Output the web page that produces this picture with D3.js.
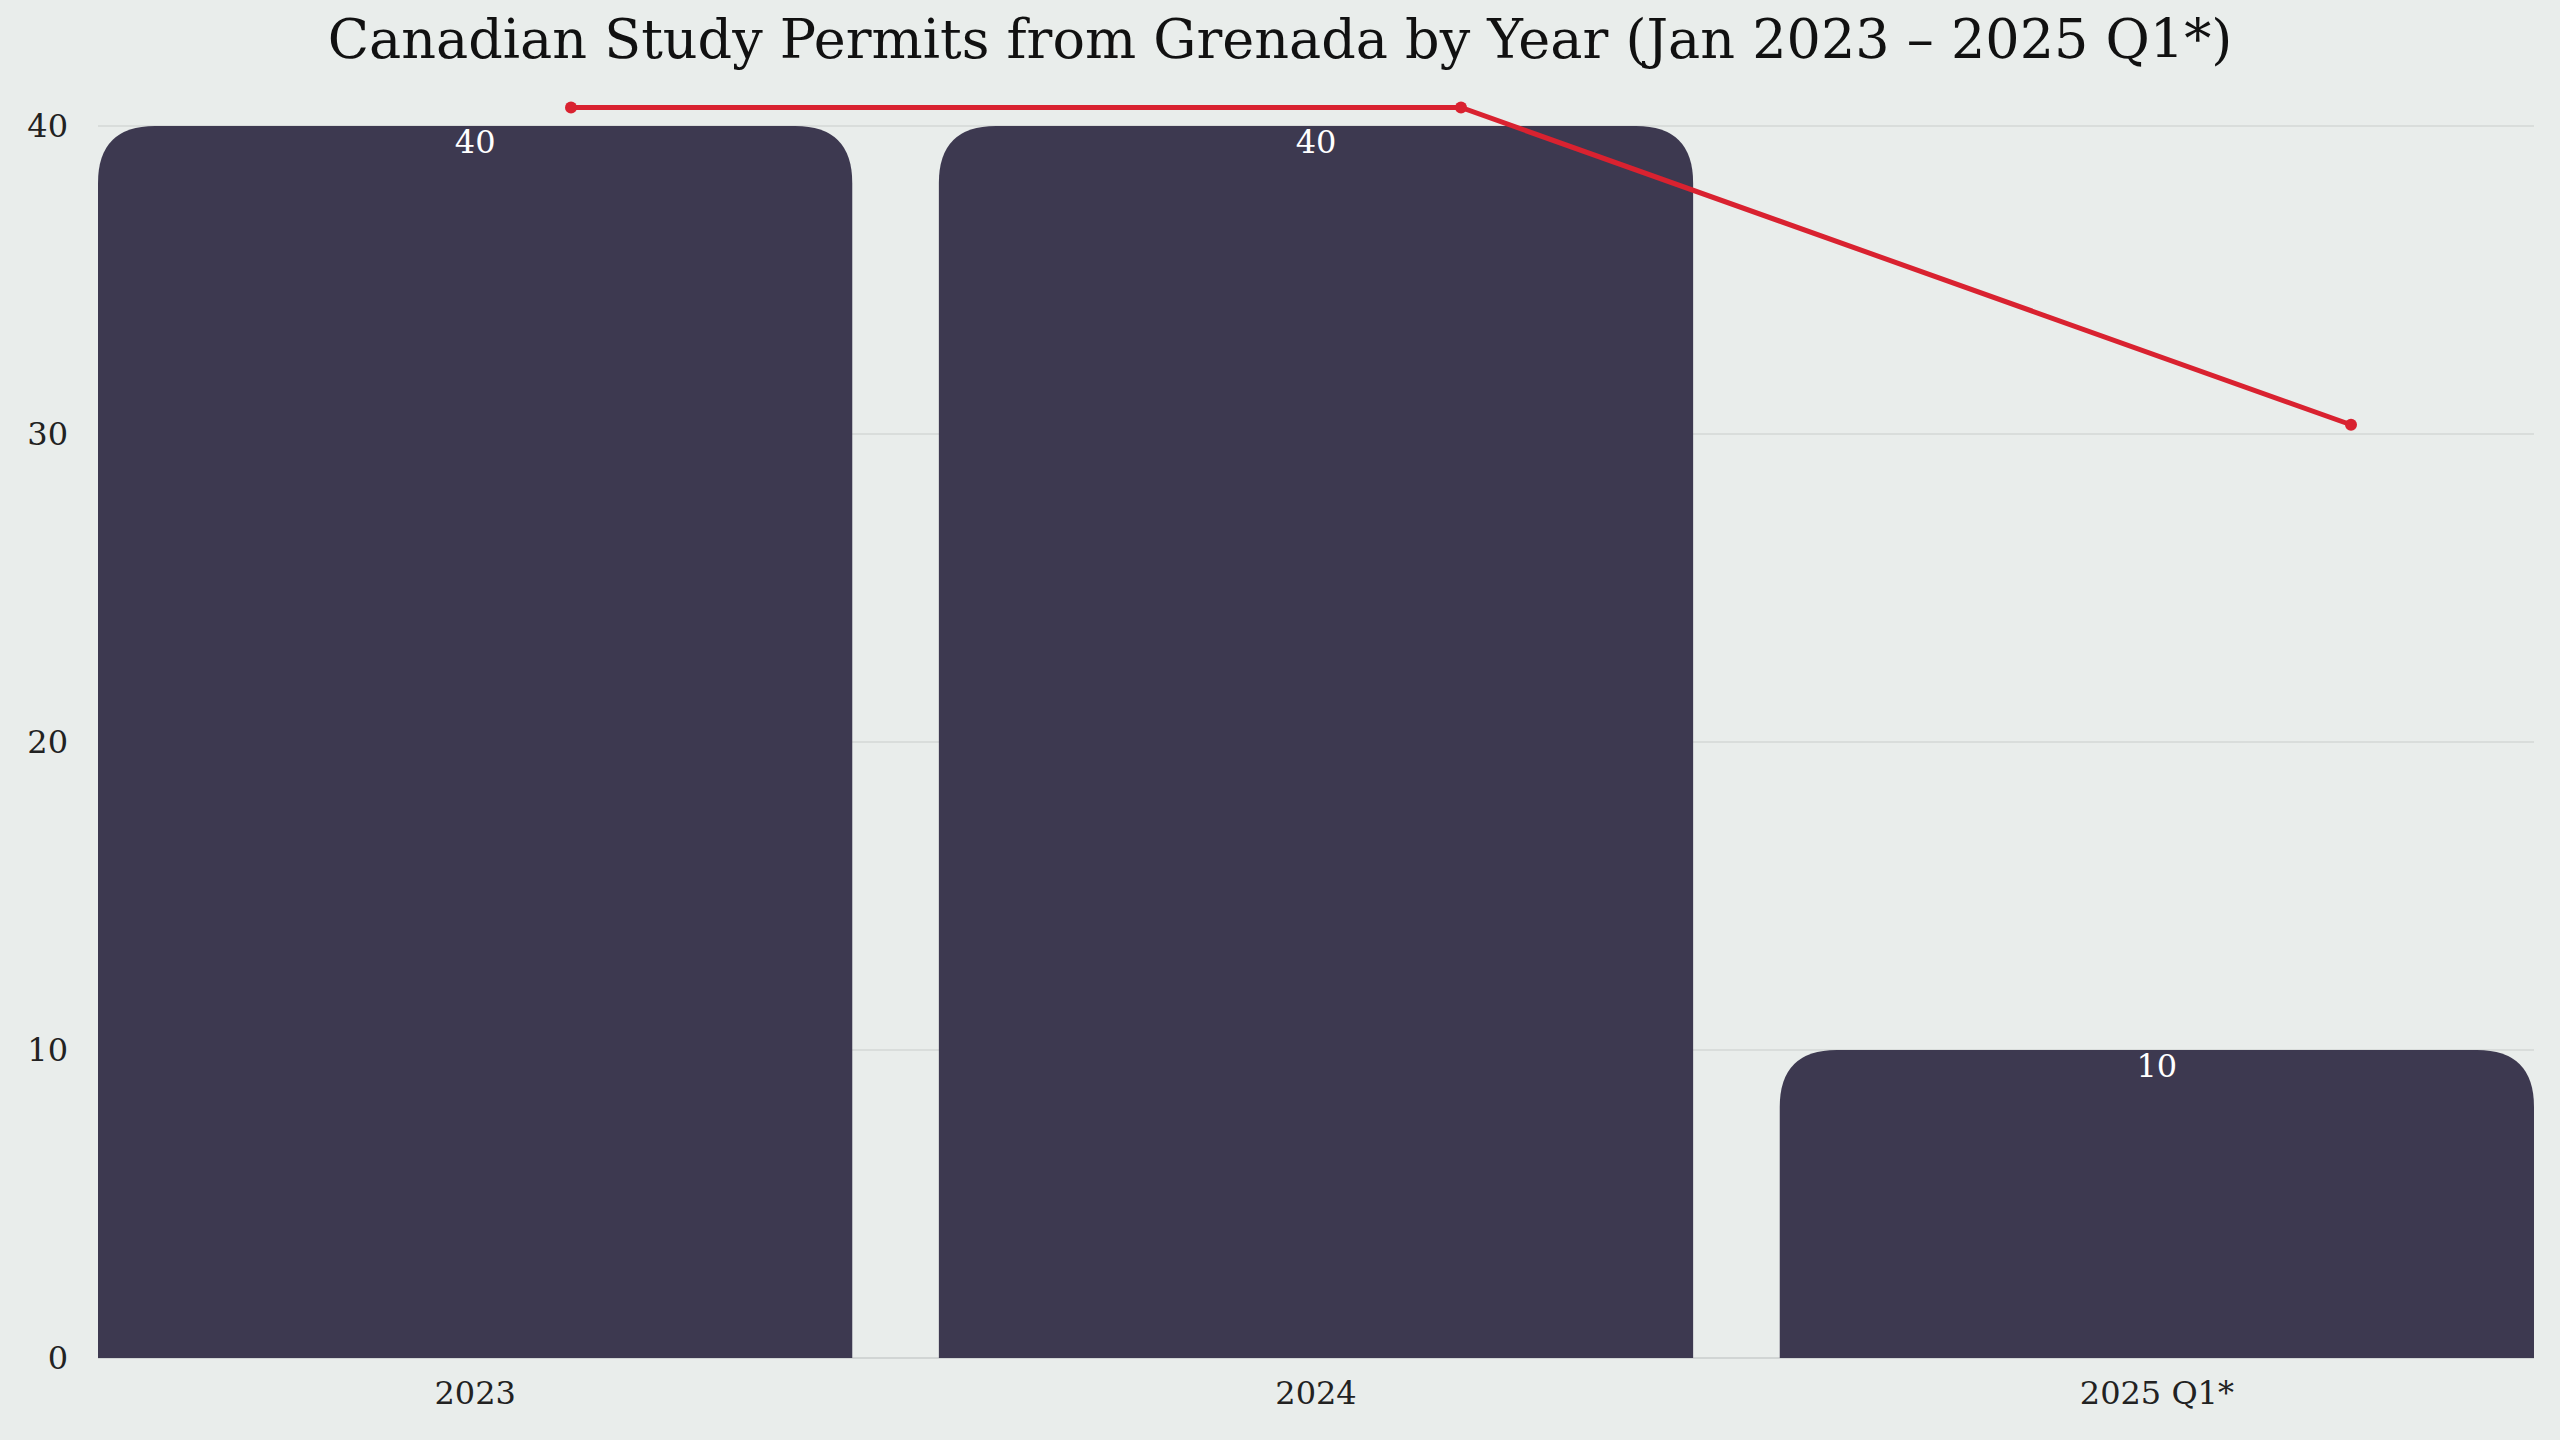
<!DOCTYPE html>
<html><head><meta charset="utf-8">
<script src="https://cdn.jsdelivr.net/npm/d3@7"></script>
<style>
body{margin:0;background:#e9edeb;}
text{font-family:"DejaVu Serif","Liberation Serif",serif;}
</style></head>
<body><svg id="chart" width="2560" height="1440"></svg>
<script>
const categories = ["2023", "2024", "2025 Q1*"];
const permits = [40, 40, 10];
const trend = [40.6, 40.6, 30.3];
const yTicks = [0, 10, 20, 30, 40];

const W = 2560, H = 1440;
const m = {top: 126, right: 26, bottom: 82, left: 98};
const svg = d3.select('#chart');
svg.append('rect').attr('width', W).attr('height', H).attr('fill', '#e9edeb');

const x = d3.scaleBand().domain(categories).range([m.left, W - m.right]).paddingInner(0.103).paddingOuter(0);
const y = d3.scaleLinear().domain([0, 40]).range([H - m.bottom, m.top]);
const xl = d3.scalePoint().domain(categories).range([571, 2351]);

// grid
svg.append('g').selectAll('line').data(yTicks.slice(1)).join('line')
  .attr('x1', m.left).attr('x2', W - m.right)
  .attr('y1', d => y(d)).attr('y2', d => y(d))
  .attr('stroke', '#d3d7d6').attr('stroke-width', 1.5);
svg.append('line').attr('x1', m.left).attr('x2', W - m.right)
  .attr('y1', y(0)).attr('y2', y(0)).attr('stroke', '#c9cdcc').attr('stroke-width', 1.5);

// y axis labels
svg.append('g').selectAll('text').data(yTicks).join('text')
  .attr('x', 68).attr('y', d => y(d)).attr('dy', '0.35em')
  .attr('text-anchor', 'end').attr('font-size', 32).attr('fill', '#222')
  .text(d => d);

// bars with rounded top corners
const r = 57;
function barPath(x0, w, yTop, yBot) {
  const rr = Math.min(r, (yBot - yTop), w / 2);
  return `M${x0},${yBot} V${yTop + rr} Q${x0},${yTop} ${x0 + rr},${yTop} H${x0 + w - rr} Q${x0 + w},${yTop} ${x0 + w},${yTop + rr} V${yBot} Z`;
}
svg.append('g').selectAll('path').data(categories).join('path')
  .attr('d', (d, i) => barPath(x(d), x.bandwidth(), y(permits[i]), y(0)))
  .attr('fill', '#3d3950');

svg.append('g').selectAll('text').data(categories).join('text')
  .attr('x', d => x(d) + x.bandwidth() / 2)
  .attr('y', (d, i) => y(permits[i]) + 27)
  .attr('text-anchor', 'middle').attr('font-size', 32).attr('fill', '#fff')
  .text((d, i) => permits[i]);

// x labels
svg.append('g').selectAll('text').data(categories).join('text')
  .attr('x', d => x(d) + x.bandwidth() / 2).attr('y', H - m.bottom + 46)
  .attr('text-anchor', 'middle').attr('font-size', 32).attr('fill', '#222')
  .text(d => d);

// trend line
const line = d3.line().x((d, i) => xl(categories[i])).y(d => y(d));
svg.append('path').datum(trend).attr('d', line)
  .attr('fill', 'none').attr('stroke', '#d92230').attr('stroke-width', 5);
svg.append('g').selectAll('circle').data(trend).join('circle')
  .attr('cx', (d, i) => xl(categories[i])).attr('cy', d => y(d)).attr('r', 6)
  .attr('fill', '#d92230');

// title
svg.append('text').attr('x', W / 2).attr('y', 58).attr('text-anchor', 'middle')
  .attr('font-size', 54).attr('fill', '#111')
  .text('Canadian Study Permits from Grenada by Year (Jan 2023 – 2025 Q1*)');
</script></body></html>
